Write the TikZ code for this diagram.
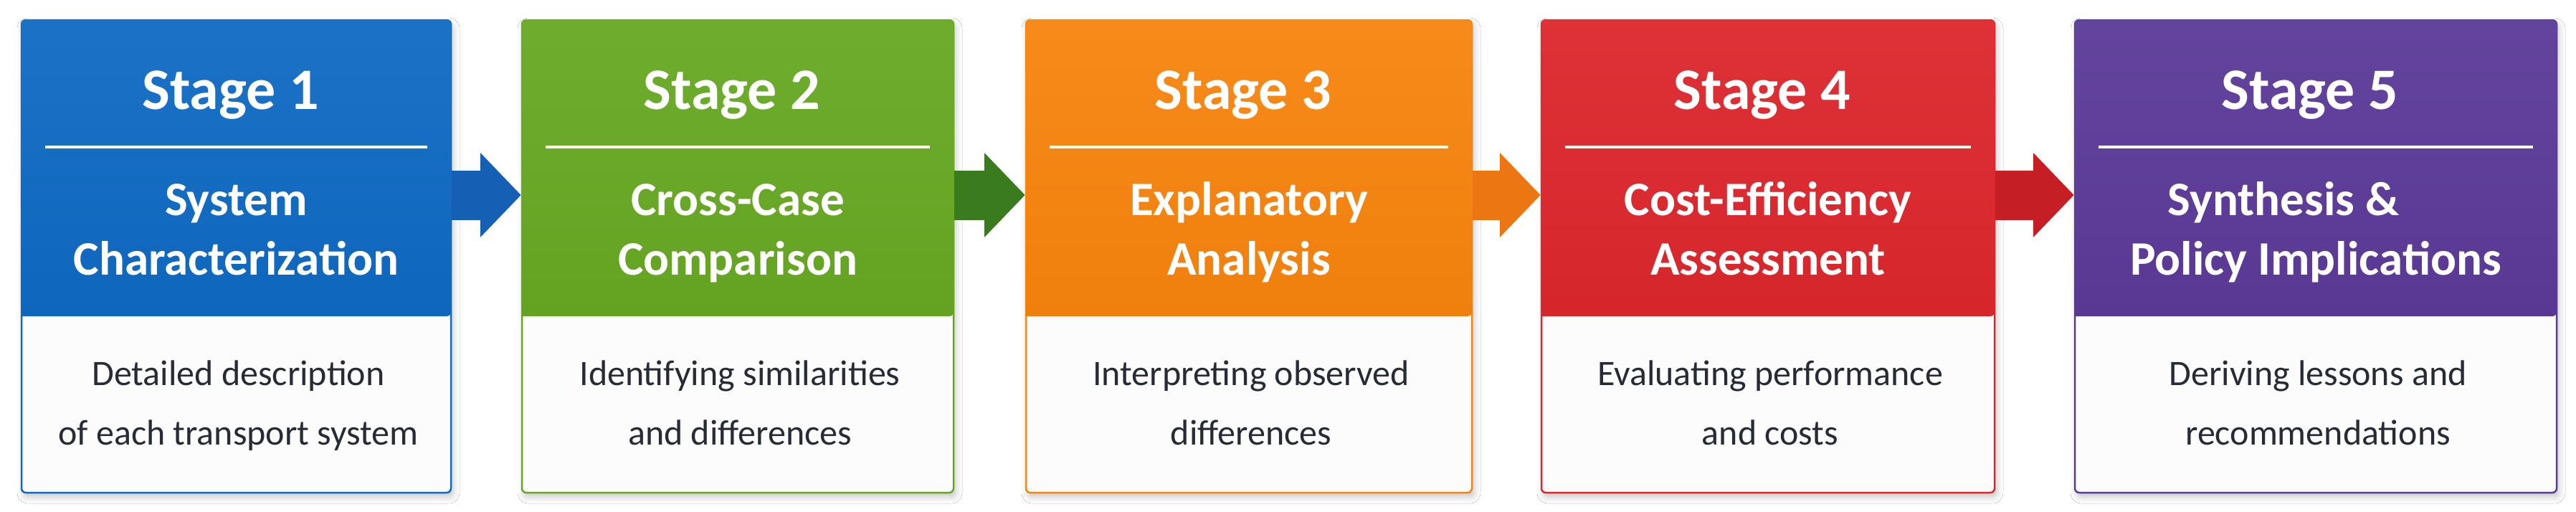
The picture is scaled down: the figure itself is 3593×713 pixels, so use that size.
\documentclass[tikz,border=0pt]{standalone}
\usepackage{fontspec}
\setmainfont{Carlito}
\usetikzlibrary{arrows.meta,fit,shadows.blur}
\definecolor{c1}{HTML}{0F6AC3}
\definecolor{c2}{HTML}{67A823}
\definecolor{c3}{HTML}{F7840E}
\definecolor{c4}{HTML}{DC272D}
\definecolor{c5}{HTML}{5B3A98}
\definecolor{a1}{HTML}{1560B5}
\definecolor{a2}{HTML}{3B7B1F}
\definecolor{a3}{HTML}{EC7612}
\definecolor{a4}{HTML}{C51F25}
\definecolor{bodytext}{HTML}{262B36}
\definecolor{bodyfill}{HTML}{FCFCFD}
\tikzset{
  stagebody/.style={inner sep=0pt, rounded corners=6pt, fill=bodyfill, line width=2.5pt,
    blur shadow={shadow xshift=3pt, shadow yshift=-6pt, shadow opacity=22, shadow blur radius=9pt}},
  titletext/.style={anchor=base, text=white, inner sep=0pt, font=\fontsize{82}{90}\selectfont\bfseries},
  subtext/.style={anchor=base, text=white, inner sep=0pt, font=\fontsize{67}{75}\selectfont\bfseries},
  desctext/.style={anchor=base, text=bodytext, inner sep=0pt, font=\fontsize{50}{60}\selectfont},
  divider/.style={line width=4pt, white!92!yellow},
  flowarrow/.style={line width=69pt, -{Triangle[length=57pt,width=115pt]}}
}
\newcommand\stagebox[9]{%
  \node[stagebody, draw=#4, fit={(#2,28)(#3,687)}] (b#1) {};
  \shade[top color=#4!95!white, bottom color=#4!97!black, rounded corners=6pt]
    (#2,441) |- ({(#2+#3)/2},28) -| (#3,441) [sharp corners] -- cycle;
  \draw[divider] ({#2+33},205) -- ({#3-33},205);
  \node[titletext] (t#1) at ({(#2+#3)/2-8},152) {#5};
  \node[subtext] (s#1a) at ({(#2+#3)/2},300) {#6};
  \node[subtext] (s#1b) at ({(#2+#3)/2},383) {#7};
  \node[desctext] (d#1a) at ({(#2+#3)/2+3},537) {#8};
  \node[desctext] (d#1b) at ({(#2+#3)/2+3},620) {#9};
}
\begin{document}
\begin{tikzpicture}[x=1pt,y=-1pt]
\fill[white] (0,0) rectangle (3593,713);
\useasboundingbox (0,0) rectangle (3593,713);
\stagebox{1}{30}{629}{c1}{Stage 1}{System}{Characterization}{Detailed description}{of each transport system}
\stagebox{2}{728}{1330}{c2}{Stage 2}{Cross-Case}{Comparison}{Identifying similarities}{and differences}
\stagebox{3}{1431}{2053}{c3}{Stage 3}{Explanatory}{Analysis}{Interpreting observed}{differences}
\stagebox{4}{2150}{2782}{c4}{Stage 4}{Cost-Efficiency}{Assessment}{Evaluating performance}{and costs}
\stagebox{5}{2894}{3566}{c5}{Stage 5}{Synthesis \&\hspace*{90pt}}{Policy Implications}{Deriving lessons and}{recommendations}
\coordinate (ax) at (0,272);
\draw[flowarrow, a1] (b1.east |- ax) -- (b2.west |- ax);
\draw[flowarrow, a2] (b2.east |- ax) -- (b3.west |- ax);
\draw[flowarrow, a3] (b3.east |- ax) -- (b4.west |- ax);
\draw[flowarrow, a4] (b4.east |- ax) -- (b5.west |- ax);
\end{tikzpicture}
\end{document}
